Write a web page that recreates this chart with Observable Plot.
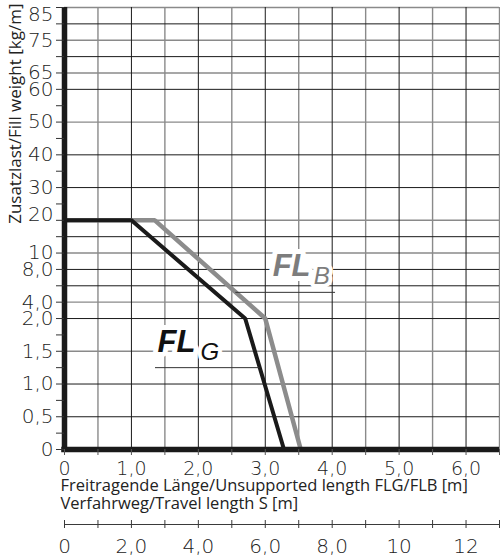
<!DOCTYPE html>
<html><head><meta charset="utf-8">
<script src="https://cdn.jsdelivr.net/npm/d3@7"></script>
<script src="https://cdn.jsdelivr.net/npm/@observablehq/plot@0.6"></script>
<style>body{margin:0;background:#fff} svg{display:block}</style>
</head><body><div id="chart"></div>
<script>
// y scale stops: one stop per grid row (piecewise, non-uniform scale of the original chart)
const yStops = [0,0.25,0.5,0.75,1,1.25,1.5,1.75,2,4,6,8,10,15,20,25,30,35,40,45,50,55,60,65,70,75,80,85];
const yLabels = [0,0.5,1,1.5,2,4,8,10,30,40,50,60,65,75];
const yLabelTop = [85];
const yLabelRaised = [20];
const yGridDark = [0.5,1,2,6,8,15,30,40,60,70,80];
const yGridLight = [1.5,4,10,20,50,65,75,85];

const xTicks = [0,0.5,1,1.5,2,2.5,3,3.5,4,4.5,5,5.5,6,6.5];
const xLabels = [0,1,2,3,4,5,6];
const xGridDark = [1,2,3,4,5,6];
const xGridLight = [0.5,1.5,2.5,3.5,4.5,5.5,6.5];

// travel length S = 2 x unsupported length
const sTicks = [0,1,2,3,4,5,6,7,8,9,10,11,12,13];
const sLabels = [0,2,4,6,8,10,12];

// curves (x = unsupported length [m], y = fill weight [kg/m])
const flgX = [0, 1.0, 2.7, 3.28];
const flgY = [20, 20, 2.0, 0];
const flbX = [0, 1.35, 3.0, 3.53];
const flbY = [20, 20, 2.0, 0];

// curve labels and leader lines
const labelMain = ["FL", "FL"];
const labelSub = ["G", "B"];
const labelX = [1.39, 3.11];
const labelY = [1.65, 8.5];
const leaderY = [1.25, 5.2];
const leaderX1 = [1.36, 2.56];
const leaderX2 = [2.92, 4.05];

const fmt = v => v === 0 ? "0" : v < 10 ? v.toFixed(1).replace(".", ",") : String(v);

const tickFont = {fontSize: 20, fontFamily: "'DejaVu Sans', sans-serif", fontWeight: 200, fill: "#222"};
const xTickFont = {...tickFont, fontSize: 19};
const textFont = {fontSize: 16.5, fontFamily: "'Open Sans', sans-serif", fill: "#222"};
const labFont = {fontFamily: "'Liberation Sans', Arial, sans-serif", fontWeight: "bold", fontStyle: "italic"};
const dark = "#1a1a1a", light = "#8a8a8a";

const chart = Plot.plot({
  width: 500, height: 559,
  marginTop: 7, marginRight: 1, marginBottom: 110, marginLeft: 64,
  style: {background: "white"},
  x: {domain: [0, 6.5]},
  y: {type: "linear", domain: yStops},
  marks: [
    Plot.ruleX(xGridLight, {stroke: light, strokeWidth: 1.4}),
    Plot.ruleY(yGridLight, {stroke: light, strokeWidth: 1.4}),
    Plot.ruleX(xGridDark, {stroke: dark, strokeWidth: 1}),
    Plot.ruleY(yGridDark, {stroke: dark, strokeWidth: 1}),

    Plot.line(flbX.map((x, i) => [x, flbY[i]]), {x: d => d[0], y: d => d[1], stroke: "#8c8c8c", strokeWidth: 4.5, strokeLinejoin: "miter"}),
    Plot.line(flgX.map((x, i) => [x, flgY[i]]), {x: d => d[0], y: d => d[1], stroke: dark, strokeWidth: 4, strokeLinejoin: "miter"}),

    Plot.text([labelMain[0]], {x: [labelX[0]], y: [labelY[0]], textAnchor: "start", fontSize: 31, ...labFont, fill: "#111", stroke: "white", strokeWidth: 10, paintOrder: "stroke", dy: 1}),
    Plot.text([labelSub[0]], {x: [labelX[0]], y: [labelY[0]], textAnchor: "start", fontSize: 24, ...labFont, fontWeight: "normal", fill: "#111", stroke: "white", strokeWidth: 8, paintOrder: "stroke", dx: 43, dy: 11}),
    Plot.text([labelMain[1]], {x: [labelX[1]], y: [labelY[1]], textAnchor: "start", fontSize: 31, ...labFont, fill: "#7d7d7d", stroke: "white", strokeWidth: 10, paintOrder: "stroke", dy: 1}),
    Plot.text([labelSub[1]], {x: [labelX[1]], y: [labelY[1]], textAnchor: "start", fontSize: 24, ...labFont, fontWeight: "normal", fill: "#7d7d7d", stroke: "white", strokeWidth: 8, paintOrder: "stroke", dx: 41, dy: 11}),
    Plot.ruleY(leaderY, {y: d => d, x1: (d, i) => leaderX1[i], x2: (d, i) => leaderX2[i], stroke: "#333", strokeWidth: 1}),

    Plot.ruleX([0], {stroke: dark, strokeWidth: 5.5, insetBottom: -2.75}),
    Plot.ruleY([0], {stroke: dark, strokeWidth: 5.5, insetLeft: -2.75}),

    Plot.axisY({ticks: yStops, tickSize: 8, tickPadding: 3, stroke: "#333", tickFormat: d => yLabels.includes(d) ? fmt(d) : "", label: null, ...tickFont}),
    Plot.text(yLabelTop, {y: d => d, text: d => fmt(d), frameAnchor: "left", textAnchor: "end", dx: -11, dy: 7, ...tickFont}),
    Plot.text(yLabelRaised, {y: d => d, text: d => fmt(d), frameAnchor: "left", textAnchor: "end", dx: -11, dy: -6, ...tickFont}),

    Plot.axisX({ticks: xTicks, tickSize: 6, stroke: "#555", tickFormat: () => "", label: null}),
    Plot.axisX({ticks: xLabels, tickSize: 0, tickPadding: 12, tickFormat: fmt, label: null, ...xTickFont}),

    Plot.text(["Freitragende Länge/Unsupported length FLG/FLB [m]"], {frameAnchor: "bottom-left", textAnchor: "start", dx: -4, dy: 41.5, ...textFont}),
    Plot.text(["Verfahrweg/Travel length S [m]"], {frameAnchor: "bottom-left", textAnchor: "start", dx: -4, dy: 59.5, ...textFont}),

    Plot.ruleY([0], {dy: 75, stroke: "#3a3a3a", strokeWidth: 1.2}),
    Plot.axisX({ticks: sTicks.map(s => s / 2), tickSize: 8, dy: 71, stroke: "#3a3a3a", tickFormat: () => "", label: null}),
    Plot.axisX({ticks: sLabels.map(s => s / 2), tickSize: 0, tickPadding: 0, dy: 89, tickFormat: d => fmt(d * 2), label: null, ...tickFont}),

    Plot.text(["Zusatzlast/Fill weight [kg/m]"], {frameAnchor: "top-left", rotate: -90, textAnchor: "end", dx: -56, dy: -4, ...textFont, fontSize: 17})
  ]
});
document.getElementById("chart").append(chart);
</script>
</body></html>
